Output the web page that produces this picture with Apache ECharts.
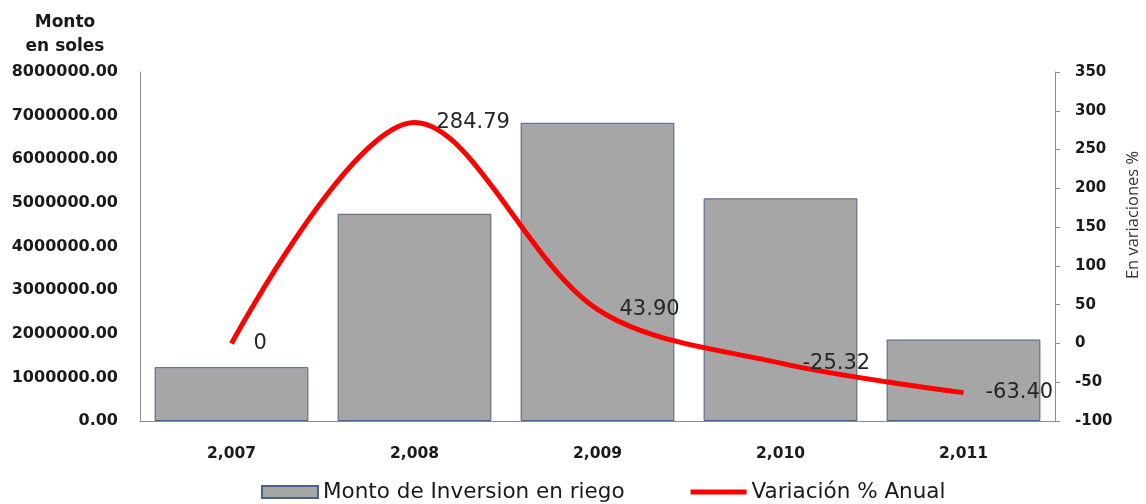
<!DOCTYPE html>
<html>
<head>
<meta charset="utf-8">
<script src="https://cdn.jsdelivr.net/npm/echarts@6/dist/echarts.min.js"></script>
<style>
  html, body { margin: 0; padding: 0; background: #fff; }
  #chart { width: 1146px; height: 504px; }
</style>
</head>
<body>
<div id="chart"></div>
<script>
// Años de la serie
const years = ['2,007', '2,008', '2,009', '2,010', '2,011'];
// Monto de inversión en riego (soles)
const montos = [1234000, 4750000, 6835000, 5104000, 1868000];
// Variación porcentual anual
const variacion = [0, 284.79, 43.90, -25.32, -63.40];

const axisFont = { fontFamily: 'DejaVu Sans', fontWeight: 'bold', color: '#1a1a1a' };

const chart = echarts.init(document.getElementById('chart'));
chart.setOption({
  animation: false,
  backgroundColor: '#ffffff',
  grid: { left: 140, right: 91, top: 72, bottom: 83 },
  legend: {
    bottom: -4,
    left: 256,
    itemWidth: 56,
    itemHeight: 12,
    itemGap: 66,
    textStyle: { fontFamily: 'DejaVu Sans', fontSize: 21.5, color: '#1a1a1a' },
    data: [
      { name: 'Monto de Inversion en riego', icon: 'rect' },
      // icono de línea gruesa sin marcador
      { name: 'Variación % Anual', icon: 'path://M0,0h56v5h-56z' }
    ]
  },
  xAxis: {
    type: 'category',
    data: years,
    axisLine: { lineStyle: { color: '#8c8c8c' } },
    axisTick: { show: false },
    axisLabel: Object.assign({ margin: 25, fontSize: 15.5 }, axisFont)
  },
  yAxis: [
    {
      type: 'value',
      min: 0, max: 8000000, interval: 1000000,
      axisLine: { show: true, lineStyle: { color: '#8c8c8c' } },
      axisTick: { show: false },
      splitLine: { show: false },
      axisLabel: Object.assign({ margin: 22, fontSize: 16, formatter: v => v.toFixed(2) }, axisFont)
    },
    {
      type: 'value',
      min: -100, max: 350, interval: 50,
      position: 'right',
      axisLine: { show: true, lineStyle: { color: '#8c8c8c' } },
      axisTick: { show: true, length: 5, lineStyle: { color: '#8c8c8c' } },
      splitLine: { show: false },
      axisLabel: Object.assign({ margin: 20, fontSize: 15 }, axisFont)
    }
  ],
  graphic: [
    {
      type: 'text', x: 65, y: 11,
      style: { text: 'Monto\nen soles', textAlign: 'center', font: 'bold 17px "DejaVu Sans"', fill: '#1a1a1a', lineHeight: 24 }
    },
    {
      type: 'text', x: 1133, y: 215, rotation: Math.PI / 2,
      style: { text: 'En variaciones %', textAlign: 'center', textVerticalAlign: 'middle', font: '16.5px "Open Sans"', fill: '#333333' }
    }
  ],
  series: [
    {
      name: 'Monto de Inversion en riego',
      type: 'bar',
      data: montos,
      barWidth: '84%',
      itemStyle: { color: '#a6a6a6', borderColor: '#4a6384', borderWidth: 1 }
    },
    {
      name: 'Variación % Anual',
      type: 'line',
      yAxisIndex: 1,
      data: variacion,
      smooth: 0.33,
      symbol: 'circle',
      symbolSize: 0.01,
      showSymbol: true,
      lineStyle: { color: '#ff0000', width: 5 },
      itemStyle: { color: '#ff0000' },
      label: {
        show: true,
        position: 'right',
        distance: 22,
        fontFamily: 'DejaVu Sans',
        fontSize: 21,
        color: '#262626',
        formatter: p => (p.value === 0 ? '0' : p.value.toFixed(2))
      },
      z: 5
    }
  ]
});
</script>
</body>
</html>
